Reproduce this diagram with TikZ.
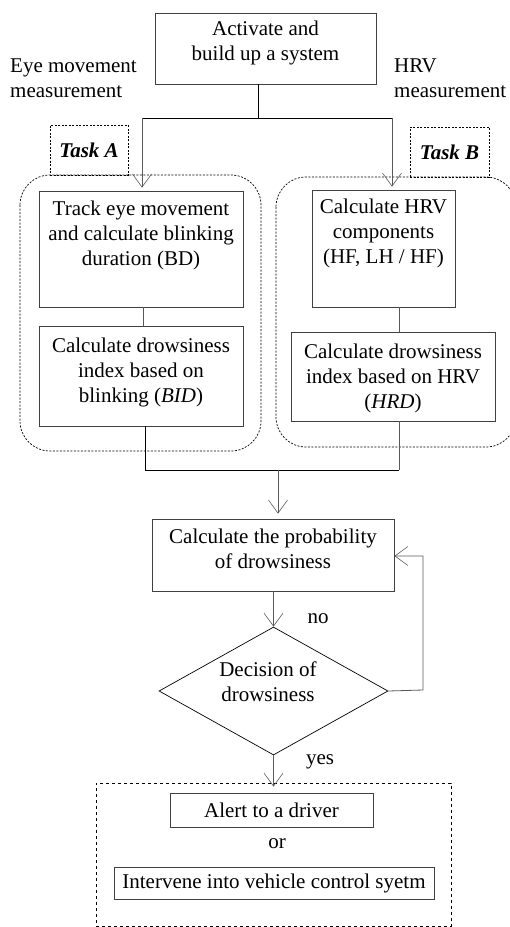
\documentclass[tikz,border=0pt]{standalone}
\usepackage{fontspec}
\setmainfont{Liberation Serif}
\usetikzlibrary{arrows.meta,shapes.geometric,calc}
\begin{document}
\begin{tikzpicture}[x=1pt,y=-1pt,
  every node/.style={font=\fontsize{21}{25}\selectfont},
  box/.style={draw=black!75,line width=0.8pt,inner sep=0pt},
  txt/.style={align=center,inner sep=0pt},
  conn/.style={draw=black!65,line width=0.8pt},
  arr/.style={conn,-{Straight Barb[length=13pt,width=19pt,line width=0.6pt]}},
  region/.style={draw=black,dash pattern=on 2pt off 1.5pt,line width=0.7pt,rounded corners=30pt},
  tasklbl/.style={draw=black,dash pattern=on 2pt off 1.5pt,line width=0.7pt,inner sep=0pt,font=\fontsize{21}{25}\selectfont\bfseries\itshape}]
\useasboundingbox (0,0) rectangle (510,927);
% regions
\draw[region] (20,175) rectangle (261,451);
\draw[region] (276,177) rectangle (516,447);
\node[tasklbl,minimum width=78,minimum height=50] (ta) at (89,150) {Task A};
\node[tasklbl,minimum width=79,minimum height=50] (tb) at (449.5,152) {Task B};
% top
\node[box,minimum width=221,minimum height=71] (top) at (265.5,48.5) {};
\node[txt] (toptxt) at (265.5,43) {Activate and\\build up a system};
\node[txt,align=left,anchor=west] (eye) at (10,78) {Eye movement\\measurement};
\node[txt,align=left,anchor=west] (hrv) at (394,78) {HRV\\measurement};
% task A boxes
\node[box,minimum width=204,minimum height=116] (b1) at (141,249) {};
\node[txt] (b1t) at (141,235) {Track eye movement\\and calculate blinking\\duration (BD)};
\node[box,minimum width=204,minimum height=100] (b2) at (141,376) {};
\node[txt] (b2t) at (141,372) {Calculate drowsiness\\index based on\\blinking (\textit{BID})};
% task B boxes
\node[box,minimum width=143,minimum height=117] (b3) at (383.5,248.5) {};
\node[txt] (b3t) at (383.5,233) {Calculate HRV\\components\\(HF, LH / HF)};
\node[box,minimum width=204,minimum height=89] (b4) at (393,376.5) {};
\node[txt] (b4t) at (393,378) {Calculate drowsiness\\index based on HRV\\(\textit{HRD})};
% probability
\node[box,minimum width=242,minimum height=72] (prob) at (273,555) {};
\node[txt] (probt) at (273,549) {Calculate the probability\\of drowsiness};
% decision
\node[draw=black,line width=0.7pt,diamond,aspect=1.79,minimum width=229,minimum height=128,inner sep=0pt] (dec) at (273.5,691) {};
\node[txt] (dect) at (268,682) {Decision of\\drowsiness};
\node[txt] (no) at (318,619) {no};
\node[txt] (yes) at (320,762) {yes};
% action
\node[draw=black,dashed,line width=0.7pt,minimum width=355,minimum height=143,inner sep=0pt] (act) at (273.5,854.5) {};
\node[box,minimum width=203,minimum height=34] (alert) at (271.5,810) {Alert to a driver};
\node[txt] (or) at (277,844) {or};
\node[box,minimum width=320,minimum height=32] (interv) at (274,883) {Intervene into vehicle control syetm};
% connectors
\coordinate (split) at (258,118);
\coordinate (sl) at (142,118);
\coordinate (sr) at (392,118);
\draw[line width=1pt] (top.south -| split) -- (split);
\draw[line width=0.8pt] (sl) -- (sr);
\draw[arr] (sl) -- ($(b1.north -| sl)+(0,-3)$);
\draw[arr] (sr) -- ($(b3.north -| sr)+(0,-3)$);
\draw[conn] (b1.south -| 143,0) -- (b2.north -| 143,0);
\draw[conn] (b3.south -| 399,0) -- (b4.north -| 399,0);
\coordinate (jl) at (145,470);
\coordinate (jr) at (399,470);
\coordinate (jm) at (278,470);
\draw[line width=0.8pt] (b2.south -| jl) -- (jl) -- (jr);
\draw[conn] (b4.south -| jr) -- (jr);
\draw[arr] (jm) -- ($(prob.north -| jm)+(0,-5)$);
\draw[arr] (prob.south -| dec.north) -- (dec.north);
\coordinate (fb1) at (423,690);
\coordinate (fb2) at (423,556);
\draw[arr] (dec.east) -- (fb1) -- (fb2) -- (prob.east |- fb2);
\draw[arr] (dec.south) -- ($(act.north -| dec.south)+(0,4)$);
\end{tikzpicture}
\end{document}
